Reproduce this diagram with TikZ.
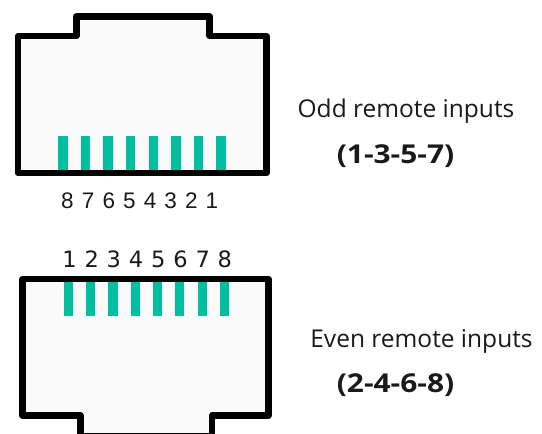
\documentclass[tikz,border=0pt]{standalone}
\usepackage{fontspec}
\usepackage{graphicx}
\setmainfont{Open Sans}
\newfontfamily\topdigits{Liberation Sans}
\newfontfamily\botdigits{DejaVu Sans}
\begin{document}
\definecolor{pin}{RGB}{0,191,160}
\definecolor{body}{RGB}{250,250,250}
\definecolor{ink}{RGB}{26,26,26}
\tikzset{
  outline/.style={line width=6.5pt, line join=round, draw=black},
  pinbar/.style={fill=pin, draw=none},
  tdig/.style={font=\topdigits\fontsize{22.5}{26}\selectfont, text=ink, anchor=base, inner sep=0pt},
  bdig/.style={font=\botdigits\fontsize{22.5}{26}\selectfont, text=ink, anchor=base, inner sep=0pt},
  caption/.style={font=\fontsize{24.5}{30}\selectfont, text=ink, anchor=base, inner sep=0pt},
  rangetxt/.style={font=\bfseries\fontsize{26}{30}\selectfont, text=ink, anchor=base, inner sep=0pt}
}
\begin{tikzpicture}[x=1pt,y=-1pt]
\useasboundingbox (0,0) rectangle (542,434);
\clip (0,0) rectangle (542,434);
\fill[white] (0,0) rectangle (542,434);
% top connector
\fill[body] (18,36) -- (76.3,36) -- (76.3,16.3) -- (209.7,16.3) -- (209.7,36) -- (266.5,36) -- (266.5,173) -- (18,173) -- cycle;
\foreach \i in {0,...,7} {
  \fill[pinbar] ({63+22.57*\i-4.7},135.5) rectangle ({63+22.57*\i+4.7},172);
}
\draw[outline] (18,36) -- (76.3,36) -- (76.3,16.3) -- (209.7,16.3) -- (209.7,36) -- (266.5,36) -- (266.5,173) -- (18,173) -- cycle;
\foreach \d [count=\i from 0] in {8,7,6,5,4,3,2,1} {
  \node[tdig] (t\d) at ({67.5+20.64*\i},208) {\d};
}
% bottom connector
\fill[body] (22.7,279) -- (268.3,279) -- (268.3,415.5) -- (212,415.5) -- (212,436.3) -- (80.5,436.3) -- (80.5,415.5) -- (22.7,415.5) -- cycle;
\foreach \i in {0,...,7} {
  \fill[pinbar] ({68.3+22.3*\i-4.6},280) rectangle ({68.3+22.3*\i+4.6},316);
}
\draw[outline] (22.7,279) -- (268.3,279) -- (268.3,415.5) -- (212,415.5) -- (212,436.3) -- (80.5,436.3) -- (80.5,415.5) -- (22.7,415.5) -- cycle;
\foreach \d [count=\i from 0] in {1,2,3,4,5,6,7,8} {
  \node[bdig] (b\d) at ({69.5+22.2*\i},267) {\d};
}
% captions
\node[caption] (odd) at (406,117) {Odd remote inputs};
\node[rangetxt] (oddr) at (395.5,163.5) {\scalebox{1.15}[1]{(1-3-5-7)}};
\node[caption] (even) at (421.5,347) {Even remote inputs};
\node[rangetxt] (evenr) at (395.5,392) {\scalebox{1.15}[1]{(2-4-6-8)}};
\end{tikzpicture}
\end{document}
